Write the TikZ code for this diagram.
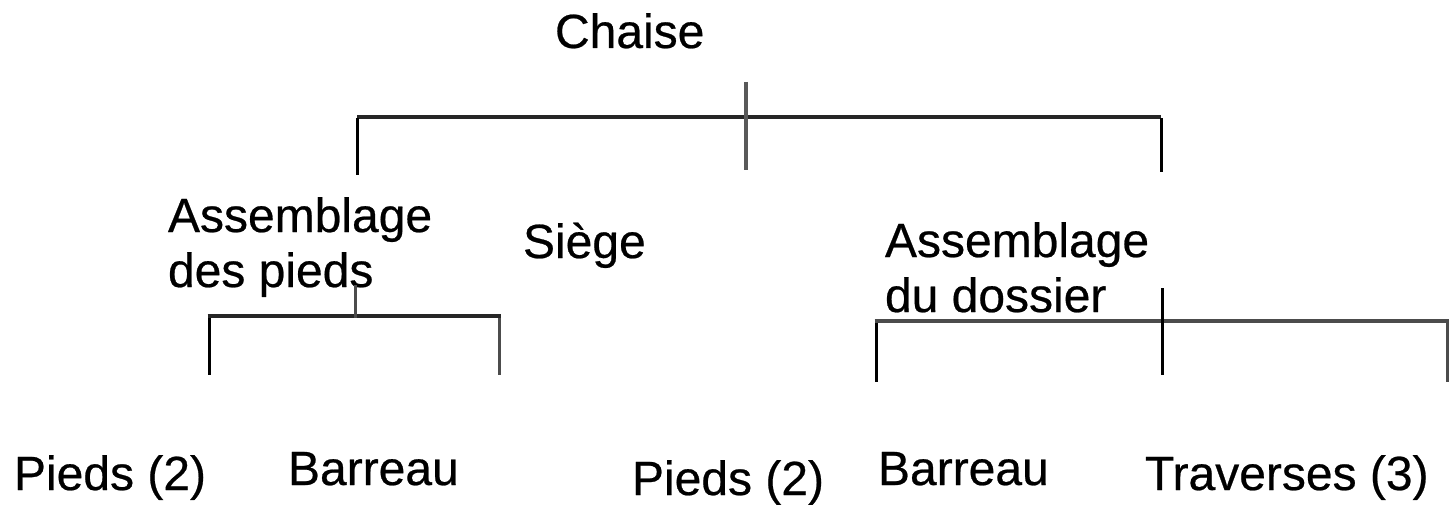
\documentclass[tikz,border=0pt]{standalone}
\usepackage{fontspec}
\setmainfont{Liberation Sans}[FakeBold=0.5]
\begin{document}
\begin{tikzpicture}[x=1pt,y=-1pt,
  lbl/.style={anchor=base west,inner sep=0pt,outer sep=0pt,font=\fontsize{48}{55}\selectfont,align=left},
  bar/.style={line width=4pt,draw=black!85},
  tick/.style={line width=4pt,draw=black!65},
  leg/.style={line width=3pt,draw=black}]
\useasboundingbox (0,0) rectangle (1450,505);
% texts
\node[lbl] (chaise) at (555,48) {Chaise};
\node[lbl] (asp) at (168,287) {Assemblage\\des pieds};
\node[lbl] (siege) at (523,258) {Siège};
\node[lbl] (asd) at (885,312) {Assemblage\\du dossier};
\node[lbl] (p1) at (14,490) {Pieds (2)};
\node[lbl] (b1) at (288,485) {Barreau};
\node[lbl] (p2) at (632,495) {Pieds (2)};
\node[lbl] (b2) at (878,485) {Barreau};
\node[lbl] (tr) at (1145,490) {Traverses (3)};
% top bracket
\coordinate (t0) at (746,82);
\coordinate (t1) at (746,170);
\coordinate (tl) at (357,117);
\coordinate (tr0) at (1161,117);
\coordinate (tla) at (357,175);
\coordinate (tra) at (1161,172);
\draw[bar] (tl) -- (tr0);
\draw[leg] ([yshift=-1.5pt]tl) -- (tla);
\draw[leg] ([yshift=-1.5pt]tr0) -- (tra);
\draw[tick] (t0) -- (t1);
% left bracket
\coordinate (l0) at (355,285);
\coordinate (ll) at (209,316);
\coordinate (lr) at (499,316);
\coordinate (lla) at (209,375);
\coordinate (lra) at (499,375);
\draw[bar] ([xshift=-1.5pt]ll) -- ([xshift=1.5pt]lr);
\draw[leg] ([yshift=-1.5pt]ll) -- (lla);
\draw[leg,draw=black!70] ([yshift=-1.5pt]lr) -- (lra);
\draw[leg,draw=black!70] (l0) -- ([yshift=-1.5pt]l0 |- ll);
% right bracket
\coordinate (r0) at (1162,288);
\coordinate (r1) at (1162,375);
\coordinate (rl) at (876,321);
\coordinate (rr) at (1447,321);
\coordinate (rla) at (876,382);
\coordinate (rra) at (1447,382);
\draw[bar,draw=black!70] ([xshift=-1.5pt]rl) -- ([xshift=1.5pt]rr);
\draw[leg] ([yshift=-1.5pt]rl) -- (rla);
\draw[leg,draw=black!70] ([yshift=-1.5pt]rr) -- (rra);
\draw[leg] (r0) -- (r1);
\end{tikzpicture}
\end{document}
